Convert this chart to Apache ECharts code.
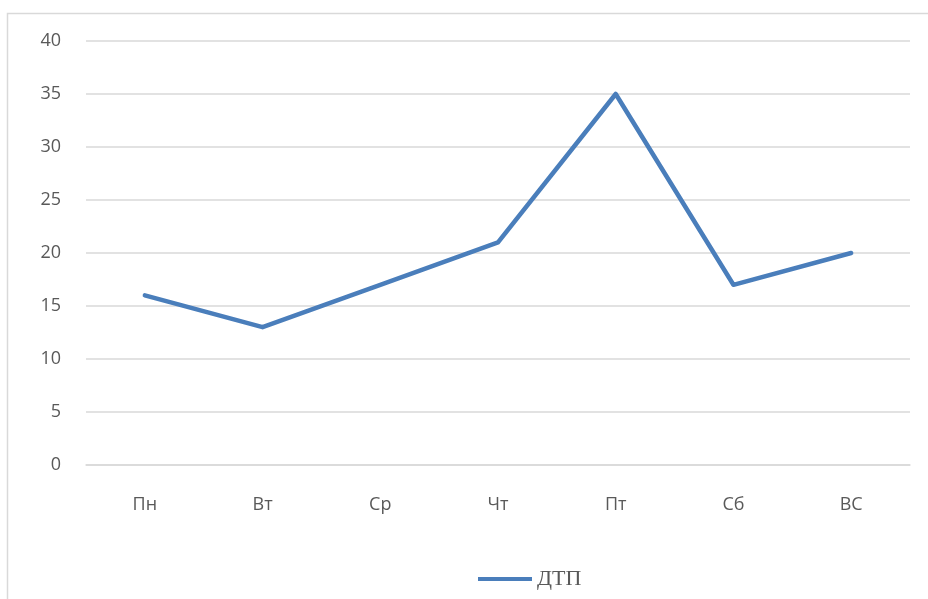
<!DOCTYPE html>
<html><head><meta charset="utf-8">
<script src="https://cdn.jsdelivr.net/npm/echarts@6/dist/echarts.min.js"></script>
<style>html,body{margin:0;padding:0;background:#fff}#c{width:928px;height:599px}</style>
</head><body><div id="c"></div>
<script>
const categories = ['Пн','Вт','Ср','Чт','Пт','Сб','ВС'];
const seriesName = 'ДТП';
const values = [16, 13, 17, 21, 35, 17, 20];
const chart = echarts.init(document.getElementById('c'));
chart.setOption({
  animation: false,
  graphic: [{type:'rect', shape:{x:7.5,y:13.5,width:940,height:600}, style:{fill:'none',stroke:'#d9d9d9',lineWidth:1.5}, silent:true}],
  grid: {left:86, right:18, top:41, bottom:134},
  legend: {top:563, left:473, itemWidth:54, itemHeight:4, itemGap:8,
    textStyle:{fontFamily:'Liberation Serif', fontSize:22, color:'#595959'},
    data:[{name:seriesName, icon:'path://M0,0 L54,0 L54,4 L0,4 Z'}]},
  xAxis: {type:'category', data:categories, boundaryGap:true,
    axisLine:{lineStyle:{color:'#d9d9d9', width:1.5}}, axisTick:{show:false},
    axisLabel:{margin:31, fontFamily:'Open Sans', fontSize:18, color:'#595959'}},
  yAxis: {type:'value', min:0, max:40, interval:5,
    axisLine:{show:false}, axisTick:{show:false},
    splitLine:{lineStyle:{color:'#d9d9d9', width:1.5}},
    axisLabel:{margin:25, fontFamily:'Open Sans', fontSize:18, color:'#595959'}},
  series: [{name:seriesName, type:'line', data:values, symbol:'none',
    lineStyle:{color:'#4a7ebb', width:4.5, cap:'round', join:'round'}, itemStyle:{color:'#4a7ebb'}}]
});
</script></body></html>
